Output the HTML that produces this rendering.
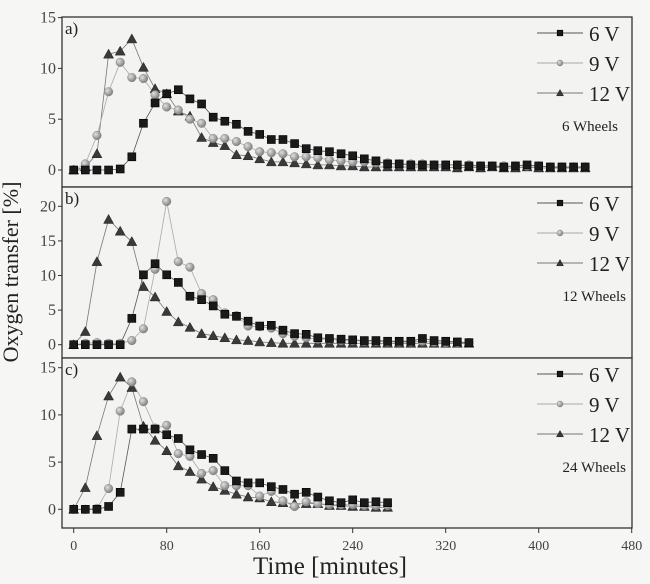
<!DOCTYPE html>
<html><head><meta charset="utf-8"><style>
html,body{margin:0;padding:0;background:#f6f6f4;}
svg{display:block;font-family:"Liberation Serif",serif;}
</style></head><body>
<svg id="chart" width="650" height="584" viewBox="0 0 650 584">
<defs>
<radialGradient id="ballGrad" cx="0.35" cy="0.35" r="0.7">
<stop offset="0" stop-color="#e0e0e0"/><stop offset="1" stop-color="#7a7a7a"/>
</radialGradient>
</defs>
<text x="18" y="272" font-size="22" text-anchor="middle" fill="#222" transform="rotate(-90 18 272)">Oxygen transfer [%]</text>
<text x="330" y="574" font-size="25" text-anchor="middle" fill="#222">Time [minutes]</text>
</svg>
<script>
const xTicks = [0, 80, 160, 240, 320, 400, 480];
const seriesNames = ["6 V", "9 V", "12 V"];
const panelLabels = ["a)", "b)", "c)"];
const wheelLabels = ["6 Wheels", "12 Wheels", "24 Wheels"];
const yTicksA = [0, 5, 10, 15];
const yTicksB = [0, 5, 10, 15, 20];
const yTicksC = [0, 5, 10, 15];
const a6 = [0,0,0,0,0.1,1.3,4.6,6.6,7.5,7.9,7.0,6.5,5.2,4.8,4.5,3.8,3.5,3.0,3.0,2.6,2.1,1.9,1.8,1.6,1.4,1.1,0.9,0.6,0.6,0.5,0.5,0.5,0.5,0.5,0.4,0.4,0.4,0.3,0.4,0.5,0.4,0.3,0.3,0.3,0.3];
const a9 = [0,0.6,3.4,7.7,10.6,9.1,9.0,7.4,6.2,5.9,5.0,4.6,3.1,3.1,2.8,2.3,1.8,1.7,1.6,1.3,1.3,1.2,1.0,0.9,0.8,0.8,0.7,0.7,0.6,0.6,0.6,0.5,0.5,0.5,0.5,0.4,0.4,0.4,0.4,0.4,0.4,0.3,0.3,0.3,0.3];
const a12 = [0,0.3,1.6,11.4,11.7,12.9,10.1,8.0,7.5,5.8,5.3,3.2,2.7,2.4,1.5,1.4,1.1,0.8,0.8,0.7,0.6,0.5,0.5,0.4,0.4,0.3,0.3,0.3,0.3,0.3,0.3,0.3,0.3,0.2,0.3,0.2,0.3,0.2,0.2,0.3,0.2,0.2,0.2,0.2,0.2];
const b6 = [0,0,0,0,0,3.8,10.1,11.7,10.1,9.0,7.0,6.5,5.6,4.4,4.1,3.4,2.7,2.8,2.1,1.6,1.5,1.0,0.9,0.8,0.7,0.6,0.6,0.5,0.5,0.5,0.9,0.6,0.5,0.4,0.3];
const b9 = [0,0.2,0.3,0.2,0.2,0.6,2.3,10.9,20.7,12.0,11.2,7.4,6.5,4.6,4.2,2.7,2.6,2.4,1.6,1.2,1.0,0.8,0.8,0.6,0.6,0.5,0.5,0.4,0.4,0.4,0.5,0.4,0.3,0.3,0.3];
const b12 = [0,1.9,12.0,18.1,16.4,14.9,8.4,6.9,4.8,3.3,2.5,1.6,1.3,1.0,0.7,0.6,0.4,0.3,0.2,0.2,0.2,0.2,0.2,0.2,0.2,0.2,0.2,0.2,0.2,0.2,0.2,0.2,0.2,0.2,0.2];
const c6 = [0,0,0,0.3,1.8,8.5,8.5,8.5,7.9,7.5,6.3,5.8,5.4,4.1,3.0,2.8,2.8,2.4,2.1,1.6,1.8,1.3,0.9,0.7,1.0,0.7,0.8,0.7];
const c9 = [0,0,0.1,2.2,10.4,13.5,11.4,8.6,8.9,5.9,5.6,3.8,4.1,2.5,2.5,2.5,1.4,1.9,0.9,0.3,0.8,0.6,0.5,0.5,0.5,0.4,0.4,0.4];
const c12 = [0,2.3,7.8,12,14,12.9,8.8,7.3,6.2,4.6,4.0,3.2,2.4,2.0,1.6,1.3,1.2,0.8,0.7,0.6,0.6,0.6,0.4,0.4,0.3,0.3,0.2,0.2];
const timeStep = 10;

const NS = "http://www.w3.org/2000/svg";
const svg = document.getElementById("chart");
const plotL = 62, plotR = 632;
function xScale(t){ return 73.7 + t * (631.7 - 73.7) / 480; }
const panels = [
  {top:17, bottom:187, zero:170, ppu:10.16, ticks:yTicksA, data:[a6,a9,a12], name:"panel-a"},
  {top:187, bottom:358, zero:344.7, ppu:6.92, ticks:yTicksB, data:[b6,b9,b12], name:"panel-b"},
  {top:358, bottom:528, zero:509.3, ppu:9.44, ticks:yTicksC, data:[c6,c9,c12], name:"panel-c"}
];
function mk(tag, attrs, parent){
  const e = document.createElementNS(NS, tag);
  for (const k in attrs) e.setAttribute(k, attrs[k]);
  (parent || svg).appendChild(e);
  return e;
}
const fills = ["#1a1a1a", "url(#ballGrad)", "#3a3a3a"];
const lineCols = ["#555", "#aaa", "#777"];
function marker(kind, x, y, g, s){
  s = s || 1;
  let m;
  if (kind === 0) m = mk("rect", {x:x-4*s, y:y-4*s, width:8*s, height:8*s, fill:fills[0], stroke:"#000", "stroke-width":0.6}, g);
  else if (kind === 1) m = mk("circle", {cx:x, cy:y, r:4.3*s, fill:fills[1], stroke:"#888", "stroke-width":0.5}, g);
  else m = mk("polygon", {points:(x)+","+(y-5*s)+" "+(x-5*s)+","+(y+4*s)+" "+(x+5*s)+","+(y+4*s), fill:fills[2], stroke:"#222", "stroke-width":0.5}, g);
  return m;
}
panels.forEach((p, pi) => {
  const yS = v => p.zero - v * p.ppu;
  const g = mk("g", {});
  
  
  const frame = mk("rect", {x:plotL, y:p.top, width:plotR-plotL, height:p.bottom-p.top, fill:"#f3f3f1", stroke:"#333", "stroke-width":1.3}, g);
  
  
  p.ticks.forEach(v => {
    mk("line", {x1:plotL-4, x2:plotL, y1:yS(v), y2:yS(v), stroke:"#333", "stroke-width":1}, g);
    const t = mk("text", {x:plotL-6, y:yS(v)+5, "font-size":16, "text-anchor":"end", fill:"#444"}, g);
    t.textContent = v;
    
    
  });
  const lab = mk("text", {x:65, y:p.top+17, "font-size":17, fill:"#222"}, g);
  lab.textContent = panelLabels[pi];
  
  
  [2,1,0].forEach(si => {
    const d = p.data[si];
    const pts = d.map((v,i) => xScale(i*timeStep).toFixed(1)+","+yS(v).toFixed(1)).join(" ");
    const pl = mk("polyline", {points:pts, fill:"none", stroke:lineCols[si], "stroke-width":0.8}, g);
    
    
  });
  [2,1,0].forEach(si => {
    p.data[si].forEach((v,i) => {
      const m = marker(si, xScale(i*timeStep), yS(v), g);
      
      
    });
  });
  const legTop = p.top + 16;
  seriesNames.forEach((nm, si) => {
    const ly = legTop + si * 30;
    const lg = mk("g", {}, g);
    
    
    mk("line", {x1:537, x2:583, y1:ly, y2:ly, stroke:lineCols[si], "stroke-width":1}, lg);
    marker(si, 560, ly, lg, 0.7);
    const tx = mk("text", {x:589, y:ly+8, "font-size":21, fill:"#222"}, lg);
    tx.textContent = nm;
  });
  const wl = mk("text", {x:(pi===0?618:626), y:legTop + 98, "font-size":15, "text-anchor":"end", fill:"#222"}, g);
  wl.textContent = wheelLabels[pi];
  
  
});
xTicks.forEach(t => {
  mk("line", {x1:xScale(t), x2:xScale(t), y1:528, y2:533, stroke:"#333", "stroke-width":1});
  const tx = mk("text", {x:xScale(t), y:550, "font-size":14, "text-anchor":"middle", fill:"#444"});
  tx.textContent = t;
  
  
});
</script>
</body></html>
